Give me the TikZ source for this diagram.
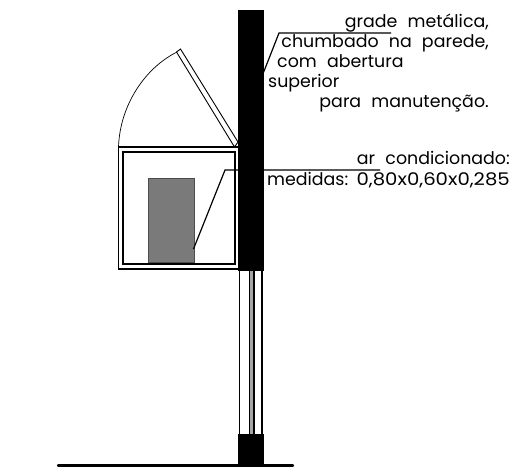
\documentclass[tikz,border=0pt]{standalone}
\usepackage{fontspec}
\setmainfont[WordSpace=2.2]{Poppins}
\newfontfamily\numeros[FakeStretch=1.13]{Poppins}
\usetikzlibrary{calc}
\tikzset{
    nota/.style={inner sep=0pt, font=\fontsize{17.4}{20}\selectfont, text=black},
    linha/.style={line width=1.2pt, black},
    grossa/.style={line width=1.7pt, black},
    parede/.style={fill=black, draw=black, line width=0.5pt}
}
\begin{document}
\begin{tikzpicture}[x=1pt, y=-1pt]
    \useasboundingbox (0, 0) rectangle (511, 474);
    % parede e base
    \draw[parede] (238.5, 10.5) rectangle (263.5, 270);
    \draw[parede] (238.5, 434.5) rectangle (263, 466);
    \draw[line width=2.4pt, line cap=round] (58, 465.5) -- (293, 465.5);
    % caixilho
    \draw[linha] (239.5, 270) -- (239.5, 434.5);
    \draw[linha] (262, 270) -- (262, 434.5);
    \draw[linha, fill=gray!70] (249.5, 270) rectangle (254, 434.5);
    % caixa do ar condicionado
    \draw[linha] (118.5, 147) rectangle (238.5, 269);
    \draw[grossa] (123, 152) rectangle (235, 264);
    \draw[draw=black!70, fill=black!52, line width=0.8pt] (148.5, 178) rectangle (194, 262);
    % grade aberta
    \draw[line width=0.7pt] (118.5, 147) .. controls (120, 105) and (145, 68) .. (177, 52);
    \draw[line width=0.9pt] (176.5, 52) -- (180.5, 49) -- (238, 142) -- (234.5, 147) -- cycle;
    \draw[linha] (118.5, 147) -- (238, 147);
    % chamadas
    \coordinate (gradeA) at (263.5, 72.5);
    \coordinate (gradeB) at (279, 33);
    \coordinate (gradeC) at (391, 33);
    \coordinate (arA) at (193.5, 249);
    \coordinate (arB) at (225, 170);
    \coordinate (arC) at (380, 170);
    \draw[linha] (gradeA) -- (gradeB) -- (gradeC);
    \draw[linha] (arA) -- (arB) -- (arC);
    % textos
    \node[nota, anchor=base east] (grade) at (489, 27) {grade metálica,};
    \node[nota, anchor=base east] (chumbado) at (489, 47) {chumbado na parede,};
    \node[nota, anchor=base west] (abertura) at (277, 67) {com abertura};
    \node[nota, anchor=base west] (superior) at (268, 87) {superior};
    \node[nota, anchor=base east] (manut) at (489, 107) {para manutenção.};
    \node[nota, anchor=base east] (ar) at (510, 164) {ar condicionado:};
    \node[nota, anchor=base west] (medidas) at (267, 185) {medidas:};
    \node[nota, anchor=base east, font=\fontsize{17.4}{20}\numeros] (valores) at (510, 185) {0,80x0,60x0,285};
\end{tikzpicture}
\end{document}
